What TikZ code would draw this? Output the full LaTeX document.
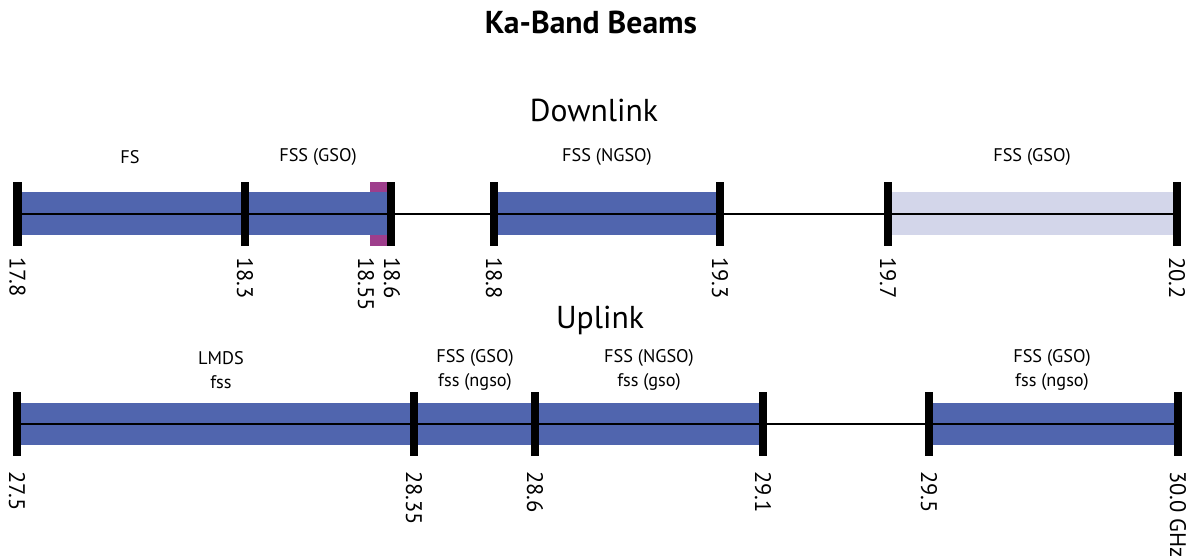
\documentclass[tikz,border=0pt]{standalone}
\usepackage{fontspec}
\setmainfont{PT Sans}
\usetikzlibrary{positioning}

\definecolor{bandblue}{RGB}{80,101,174}
\definecolor{bandlight}{RGB}{211,214,234}
\definecolor{bandmag}{RGB}{158,62,140}

\begin{document}
\begin{tikzpicture}[
    x=0.025cm, y=-0.025cm,
    tick/.style={rectangle, fill=black, inner sep=0pt, minimum width=0.22cm, minimum height=1.6cm},
    freq/.style={rotate=-90, anchor=west, inner sep=0pt, font=\fontsize{16}{16}\selectfont},
    service/.style={align=center, inner sep=0pt, font=\fontsize{13}{17}\selectfont},
    heading/.style={inner sep=0pt, font=\fontsize{22.5}{26}\selectfont}
]
\useasboundingbox (0,0) rectangle (1201,558);

% Titles
\node (title) [heading, font=\fontsize{22.5}{26}\selectfont\bfseries] at (591,22) {Ka-Band Beams};
\node (down) [heading] at (594,110) {Downlink};
\node (up) [heading] at (600,320) {Uplink};

% Downlink bands
\fill[bandmag] (370,182) rectangle (391,246);
\fill[bandblue] (17,192) rectangle (391,235);
\fill[bandblue] (494,192) rectangle (720,235);
\fill[bandlight] (888,192) rectangle (1177,235);

% Downlink ticks
\node (d178) [tick] at (17.5,214) {};
\node (d183) [tick] at (245,214) {};
\node (d186) [tick] at (391,214) {};
\node (d188) [tick] at (494,214) {};
\node (d193) [tick] at (720,214) {};
\node (d197) [tick] at (888,214) {};
\node (d202) [tick] at (1177,214) {};
\draw [thick] (d178.center) -- (d202.center);

% Downlink labels
\node [service] at (130,157) {FS};
\node [service] at (318,157) {FSS (GSO)};
\node [service] at (607,157) {FSS (NGSO)};
\node [service] at (1032,157) {FSS (GSO)};
\node [freq] at (17.5,257) {17.8};
\node [freq] at (245,257) {18.3};
\node [freq] at (366,257) {18.55};
\node [freq] at (392,257) {18.6};
\node [freq] at (494,257) {18.8};
\node [freq] at (720,257) {19.3};
\node [freq] at (888,257) {19.7};
\node [freq] at (1177,257) {20.2};

% Uplink bands
\fill[bandblue] (17,403) rectangle (763,445);
\fill[bandblue] (929,403) rectangle (1178,445);

% Uplink ticks
\node (u275) [tick] at (17,424) {};
\node (u2835) [tick] at (414,424) {};
\node (u286) [tick] at (535,424) {};
\node (u291) [tick] at (763,424) {};
\node (u295) [tick] at (929,424) {};
\node (u300) [tick] at (1178,424) {};
\draw [thick] (u275.center) -- (u300.center);

% Uplink labels
\node [service] at (221,370) {LMDS\\fss};
\node [service] at (475,370) {FSS (GSO)\\fss (ngso)};
\node [service] at (649,370) {FSS (NGSO)\\fss (gso)};
\node [service] at (1052,370) {FSS (GSO)\\fss (ngso)};
\node [freq] at (17,471) {27.5};
\node [freq] at (414,471) {28.35};
\node [freq] at (535,471) {28.6};
\node [freq] at (763,471) {29.1};
\node [freq] at (929,471) {29.5};
\node [freq] at (1178,471) {30.0 GHz};

\end{tikzpicture}
\end{document}
